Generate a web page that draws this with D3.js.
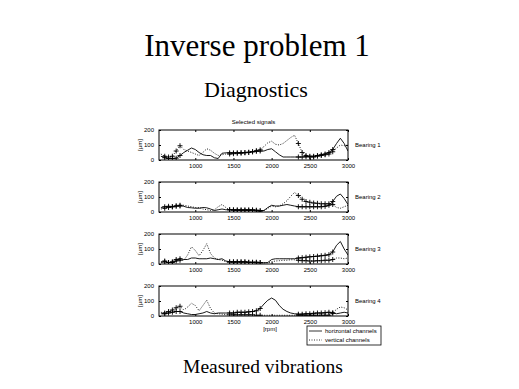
<!DOCTYPE html>
<html>
<head>
<meta charset="utf-8">
<script src="https://cdn.jsdelivr.net/npm/d3@7"></script>
<style>
  body { margin: 0; background: #fff; }
  svg { display: block; }
</style>
</head>
<body>
<div id="chart"></div>
<script>
// rotation speed grid [rpm]
const rpm = [550, 600, 650, 700, 750, 800, 850, 900, 950, 1000,
  1050, 1100, 1150, 1200, 1250, 1300, 1350, 1400, 1450, 1500,
  1550, 1600, 1650, 1700, 1750, 1800, 1850, 1900, 1950, 2000,
  2050, 2100, 2150, 2200, 2250, 2300, 2350, 2400, 2450, 2500,
  2550, 2600, 2650, 2700, 2750, 2800, 2850, 2900, 2950, 3000];

// selected speed ranges (marked with +)
const selectedRanges = [[600, 800], [1450, 1850], [2350, 2800]];

const bearingLabels = ['Bearing 1', 'Bearing 2', 'Bearing 3', 'Bearing 4'];
const xTicks = [1000, 1500, 2000, 2500, 3000];
const yTicks = [0, 100, 200];

// horizontal channels [µm]
const horiz1 = [25, 15, 10, 10, 12, 30, 50, 65, 80, 70, 50, 35, 30, 30, 15, 10, 45, 48, 48, 48,
  48, 50, 50, 52, 55, 58, 60, 60, 70, 75, 55, 35, 20, 20, 20, 20, 20, 20, 22, 25,
  25, 30, 35, 40, 50, 70, 110, 145, 110, 60];
const horiz2 = [30, 35, 38, 35, 40, 45, 38, 30, 28, 25, 25, 30, 28, 20, 10, 15, 20, 15, 15, 15,
  15, 15, 15, 15, 15, 12, 10, 10, 30, 45, 40, 40, 45, 50, 45, 40, 35, 35, 35, 35,
  35, 35, 35, 38, 45, 70, 105, 120, 90, 50];
const horiz3 = [10, 15, 10, 10, 20, 35, 30, 30, 40, 40, 35, 35, 35, 40, 35, 30, 35, 20, 15, 15,
  15, 15, 15, 12, 12, 12, 10, 8, 10, 30, 35, 35, 35, 35, 35, 35, 40, 42, 45, 48,
  50, 52, 55, 58, 62, 80, 125, 150, 100, 60];
const horiz4 = [15, 15, 20, 25, 30, 30, 20, 15, 10, 10, 15, 20, 30, 20, 15, 20, 20, 20, 20, 20,
  25, 25, 25, 28, 30, 35, 50, 80, 105, 120, 105, 70, 45, 30, 20, 15, 12, 12, 15, 15,
  18, 20, 20, 22, 25, 20, 15, 20, 25, 20];

// vertical channels [µm]
const vert1 = [40, 25, 20, 25, 60, 95, 70, 60, 50, 40, 30, 50, 75, 65, 45, 30, 35, 40, 40, 42,
  45, 45, 48, 50, 55, 62, 68, 90, 115, 125, 105, 100, 110, 130, 150, 165, 110, 50, 30, 20,
  20, 25, 30, 35, 40, 55, 80, 100, 95, 100];
const vert2 = [20, 25, 30, 35, 40, 40, 45, 40, 35, 30, 30, 20, 15, 10, 15, 35, 50, 30, 15, 12,
  10, 10, 10, 10, 10, 8, 5, 10, 25, 40, 35, 40, 55, 75, 105, 130, 110, 85, 70, 65,
  60, 58, 55, 55, 55, 50, 30, 25, 35, 45];
const vert3 = [15, 20, 10, 15, 30, 25, 25, 60, 115, 90, 55, 90, 135, 70, 40, 30, 25, 15, 12, 12,
  12, 12, 12, 10, 10, 8, 8, 8, 8, 15, 20, 22, 25, 25, 28, 28, 25, 22, 22, 20,
  20, 22, 22, 25, 25, 30, 40, 40, 35, 40];
const vert4 = [25, 20, 30, 40, 55, 65, 40, 60, 85, 70, 35, 70, 105, 50, 20, 15, 12, 10, 8, 8,
  8, 8, 8, 8, 8, 5, 5, 5, 5, 5, 5, 5, 5, 5, 5, 5, 5, 5, 5, 5,
  5, 5, 5, 5, 5, 20, 45, 60, 55, 40];

const horizontal = [horiz1, horiz2, horiz3, horiz4];
const vertical = [vert1, vert2, vert3, vert4];

const W = 519, H = 389;
const left = 159, right = 348;
const panelTop = 130, panelH = 30, panelStep = 52;

const svg = d3.select('#chart').append('svg')
  .attr('width', W)
  .attr('height', H)
  .style('font-family', '"Liberation Sans", Arial, sans-serif');

// slide texts
svg.append('text')
  .attr('x', 257).attr('y', 56)
  .attr('text-anchor', 'middle')
  .style('font-family', '"Liberation Serif", "Times New Roman", serif')
  .style('font-size', '31px')
  .text('Inverse problem 1');

svg.append('text')
  .attr('x', 256).attr('y', 97)
  .attr('text-anchor', 'middle')
  .style('font-family', '"Liberation Serif", "Times New Roman", serif')
  .style('font-size', '22px')
  .text('Diagnostics');

svg.append('text')
  .attr('x', 263).attr('y', 373)
  .attr('text-anchor', 'middle')
  .style('font-family', '"Liberation Serif", "Times New Roman", serif')
  .style('font-size', '19.5px')
  .text('Measured vibrations');

svg.append('text')
  .attr('x', (left + right) / 2).attr('y', 124)
  .attr('text-anchor', 'middle')
  .style('font-size', '6px')
  .text('Selected signals');

const x = d3.scaleLinear().domain([525, 3000]).range([left, right]);

const isSelected = v => selectedRanges.some(r => v >= r[0] && v <= r[1]);

function crossPath(px, py, s) {
  return `M${px - s},${py}H${px + s}M${px},${py - s}V${py + s}`;
}

bearingLabels.forEach((label, i) => {
  const top = panelTop + i * panelStep;
  const y = d3.scaleLinear().domain([0, 200]).range([top + panelH, top]);
  const g = svg.append('g');

  const clipId = `clip${i}`;
  g.append('clipPath').attr('id', clipId)
    .append('rect')
    .attr('x', left).attr('y', top)
    .attr('width', right - left).attr('height', panelH);

  const line = d3.line()
    .x((d, j) => x(rpm[j]))
    .y(d => y(d));

  const plot = g.append('g').attr('clip-path', `url(#${clipId})`);

  plot.append('path')
    .attr('d', line(horizontal[i]))
    .attr('fill', 'none')
    .attr('stroke', '#000')
    .attr('stroke-width', 0.9);

  plot.append('path')
    .attr('d', line(vertical[i]))
    .attr('fill', 'none')
    .attr('stroke', '#000')
    .attr('stroke-width', 0.9)
    .attr('stroke-dasharray', '1,1.5');

  [horizontal[i], vertical[i]].forEach(series => {
    plot.selectAll(null)
      .data(series.map((v, j) => ({ r: rpm[j], v })).filter(d => isSelected(d.r)))
      .enter()
      .append('path')
      .attr('d', d => crossPath(x(d.r), y(d.v), 2.5))
      .attr('stroke', '#000')
      .attr('stroke-width', 0.9);
  });

  // axes box
  g.append('rect')
    .attr('x', left).attr('y', top)
    .attr('width', right - left).attr('height', panelH)
    .attr('fill', 'none')
    .attr('stroke', '#000')
    .attr('stroke-width', 1);

  const xb = g.append('g')
    .attr('transform', `translate(0,${top + panelH})`)
    .call(d3.axisBottom(x).tickValues(xTicks).tickSize(-2).tickPadding(4).tickFormat(d3.format('d')));
  xb.select('.domain').remove();
  xb.selectAll('text').style('font-size', '6px').style('font-family', '"Liberation Sans", Arial, sans-serif');

  const xt = g.append('g')
    .attr('transform', `translate(0,${top})`)
    .call(d3.axisTop(x).tickValues(xTicks).tickSize(-2).tickFormat(''));
  xt.select('.domain').remove();

  const yl = g.append('g')
    .attr('transform', `translate(${left},0)`)
    .call(d3.axisLeft(y).tickValues(yTicks).tickSize(-2).tickPadding(5));
  yl.select('.domain').remove();
  yl.selectAll('text').style('font-size', '6px').style('font-family', '"Liberation Sans", Arial, sans-serif');

  const yr = g.append('g')
    .attr('transform', `translate(${right},0)`)
    .call(d3.axisRight(y).tickValues(yTicks).tickSize(-2).tickFormat(''));
  yr.select('.domain').remove();

  g.append('text')
    .attr('transform', `translate(142,${top + panelH / 2}) rotate(-90)`)
    .attr('text-anchor', 'middle')
    .style('font-size', '6px')
    .text('[µm]');

  g.append('text')
    .attr('x', 355).attr('y', top + 17)
    .style('font-size', '6px')
    .text(label);
});

svg.append('text')
  .attr('x', 270).attr('y', 331)
  .attr('text-anchor', 'middle')
  .style('font-size', '6px')
  .text('[rpm]');

// legend
const lg = svg.append('g');
lg.append('rect')
  .attr('x', 307).attr('y', 326)
  .attr('width', 74).attr('height', 19)
  .attr('fill', '#fff')
  .attr('stroke', '#000')
  .attr('stroke-width', 0.8);
lg.append('line')
  .attr('x1', 309).attr('x2', 322).attr('y1', 331).attr('y2', 331)
  .attr('stroke', '#000').attr('stroke-width', 0.8);
lg.append('line')
  .attr('x1', 309).attr('x2', 322).attr('y1', 340).attr('y2', 340)
  .attr('stroke', '#000').attr('stroke-width', 0.8)
  .attr('stroke-dasharray', '1,1.5');
lg.append('text')
  .attr('x', 325).attr('y', 333)
  .style('font-size', '6px')
  .text('horizontal channels');
lg.append('text')
  .attr('x', 325).attr('y', 342)
  .style('font-size', '6px')
  .text('vertical channels');
</script>
</body>
</html>
